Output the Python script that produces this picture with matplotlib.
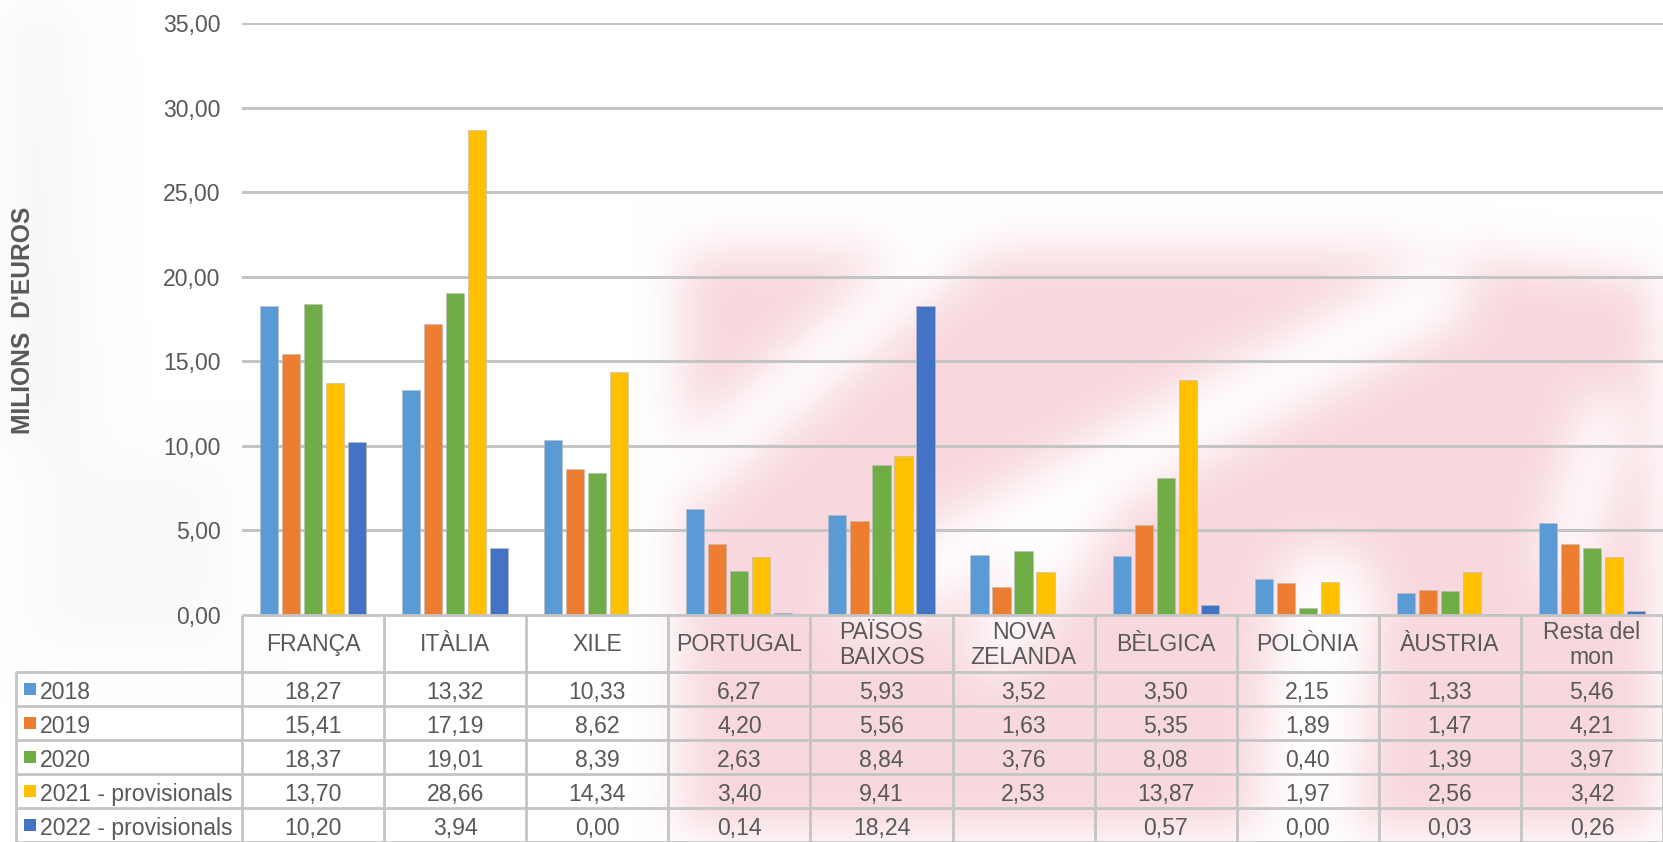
import numpy as np
import matplotlib
matplotlib.use("Agg")
import matplotlib.pyplot as plt
from matplotlib.path import Path
from matplotlib.patches import Rectangle

# ---------------- data ----------------
categories = ["FRANÇA", "ITÀLIA", "XILE", "PORTUGAL", "PAÏSOS\nBAIXOS",
              "NOVA\nZELANDA", "BÈLGICA", "POLÒNIA", "ÀUSTRIA", "Resta del\nmon"]
series_names = ["2018", "2019", "2020", "2021 - provisionals", "2022 - provisionals"]
v2018 = [18.27, 13.32, 10.33, 6.27, 5.93, 3.52, 3.50, 2.15, 1.33, 5.46]
v2019 = [15.41, 17.19, 8.62, 4.20, 5.56, 1.63, 5.35, 1.89, 1.47, 4.21]
v2020 = [18.37, 19.01, 8.39, 2.63, 8.84, 3.76, 8.08, 0.40, 1.39, 3.97]
v2021 = [13.70, 28.66, 14.34, 3.40, 9.41, 2.53, 13.87, 1.97, 2.56, 3.42]
v2022 = [10.20, 3.94, 0.00, 0.14, 18.24, None, 0.57, 0.00, 0.03, 0.26]
series = [v2018, v2019, v2020, v2021, v2022]
colors = ["#5B9BD5", "#ED7D31", "#70AD47", "#FFC000", "#4472C4"]
yticks = [0, 5, 10, 15, 20, 25, 30, 35]
ylabel = "MILIONS  D'EUROS"

# ---------------- layout ----------------
W, H = 1663, 842
TXT = "#595959"
GRID = "#C4C4C4"
FS = 16.6
plt.rcParams['font.family'] = ['Liberation Sans', 'DejaVu Sans']

fig = plt.figure(figsize=(W / 100, H / 100), dpi=100)
fig.patch.set_facecolor("white")

# ---- blurred background watermark (decorative) ----
bg = fig.add_axes([0, 0, 1, 1], zorder=-10)
bg.axis("off")
step = 6
xs = np.arange(0, W, step) + step / 2
ys = np.arange(0, H, step) + step / 2
X, Y = np.meshgrid(xs, ys)
pts = np.column_stack([X.ravel(), Y.ravel()])

def poly_mask(poly):
    return Path(poly).contains_points(pts).reshape(X.shape).astype(float)

def stripe(p0, p1, w):
    p0 = np.array(p0, float); p1 = np.array(p1, float)
    d = p1 - p0
    t = np.clip(((X - p0[0]) * d[0] + (Y - p0[1]) * d[1]) / (d @ d), 0, 1)
    dx = X - (p0[0] + t * d[0]); dy = Y - (p0[1] + t * d[1])
    return (np.hypot(dx, dy) < w / 2).astype(float)

pink = poly_mask([(685, 250), (1400, 250), (1663, 278), (1663, H), (685, H)])
for p0, p1, w in [((700, 470), (950, 250), 60),
                  ((880, 600), (1440, 295), 70),
                  ((1000, 650), (1130, 450), 55),
                  ((1310, 842), (1330, 600), 100),
                  ((1570, 570), (1610, 420), 50)]:
    pink = pink * (1 - stripe(p0, p1, w))
gray = np.maximum(poly_mask([(0, 0), (70, 0), (90, 450), (0, 450)]) * 0.7,
                  poly_mask([(30, 460), (230, 460), (230, 650), (30, 650)]) * 0.5)

def blur(a, k):
    ker = np.ones(k) / k
    a = np.apply_along_axis(lambda r: np.convolve(r, ker, mode="same"), 1, a)
    a = np.apply_along_axis(lambda c: np.convolve(c, ker, mode="same"), 0, a)
    return a

pink = np.clip(blur(blur(pink, 9), 9) * 0.9, 0, 1)
gray = blur(blur(gray, 11), 11) * 0.3
img = np.ones(X.shape + (3,))
pc = np.array([247, 212, 218]) / 255
gc = np.array([220, 220, 220]) / 255
for c in range(3):
    img[..., c] = img[..., c] * (1 - pink) + pc[c] * pink
    img[..., c] = img[..., c] * (1 - gray) + gc[c] * gray
bg.imshow(img, extent=(0, W, H, 0), interpolation="bilinear", aspect="auto")
bg.set_xlim(0, W); bg.set_ylim(H, 0)

# ---- main chart axes ----
ax_left = 242 / W
ax_w = 1 - ax_left
ax_bottom = 1 - 615 / H
ax_h = (615 - 23) / H
ax = fig.add_axes([ax_left, ax_bottom, ax_w, ax_h])
ax.set_facecolor("none")
ncat = len(categories)
x = np.arange(ncat) + 0.5
pitch, bw = 0.155, 0.128
for k, (vals, col) in enumerate(zip(series, colors)):
    v = np.array([np.nan if t is None else t for t in vals], float)
    ax.bar(x + (k - 2) * pitch, v, width=bw, color=col, zorder=3,
           edgecolor="#BBBBBB", linewidth=0.4)
ax.set_xlim(0, ncat)
ax.set_ylim(0, 35)
ax.set_yticks(yticks)
ax.set_yticklabels([f"{t:.2f}".replace(".", ",") for t in yticks],
                   fontsize=FS, color=TXT)
ax.tick_params(axis="y", length=0, pad=15.5)
ax.set_xticks([])
for t in yticks[1:]:
    ax.axhline(t, color=GRID, lw=2.2, zorder=1)
for s in ax.spines.values():
    s.set_visible(False)

fig.text(23 / W, 1 - 320 / H, ylabel, rotation=90, ha="center", va="center",
         fontsize=17.7, fontweight="bold", color=TXT)

# ---- data table below ----
row_h = 34.0
head_h = 57.0
tab_top = 615
tax = fig.add_axes([ax_left, 0, ax_w, (H - tab_top) / H])
tax.axis("off")
tax.set_xlim(0, ncat)
tot = (H - tab_top) / row_h
tax.set_ylim(tot, 0)
hh = head_h / row_h
colw = (W - 242) / ncat
xl = (16 - 242) / colw
lc = dict(color=GRID, lw=2.0, clip_on=False, solid_capstyle="butt")
tax.plot([0, ncat], [0, 0], **lc)
tax.plot([xl, ncat], [hh, hh], **lc)
for i in range(ncat + 1):
    tax.plot([i, i], [0, tot], **lc)
tax.plot([xl, xl], [hh, tot], **lc)
for r in range(len(series)):
    y0 = hh + r + 1
    tax.plot([xl, ncat], [y0, y0], **lc)
for i, c in enumerate(categories):
    tax.text(i + 0.5, hh / 2 + 0.04, c, ha="center", va="center", fontsize=FS,
             color=TXT, linespacing=1.12, clip_on=False)
for r, (name, vals, col) in enumerate(zip(series_names, series, colors)):
    yc = hh + r + 0.5
    sq = 11.5
    tax.add_patch(Rectangle(((24 - 242) / colw, yc - sq / 2 / row_h), sq / colw,
                            sq / row_h, facecolor=col, edgecolor="none",
                            clip_on=False))
    tax.text((40 - 242) / colw, yc + 0.1, name, ha="left", va="center",
             fontsize=FS, color=TXT, clip_on=False)
    for i, v in enumerate(vals):
        if v is None:
            continue
        tax.text(i + 0.5, yc + 0.1, f"{v:.2f}".replace(".", ","), ha="center",
                 va="center", fontsize=FS, color=TXT, clip_on=False)

fig.savefig("out.png", dpi=100, facecolor="white")
